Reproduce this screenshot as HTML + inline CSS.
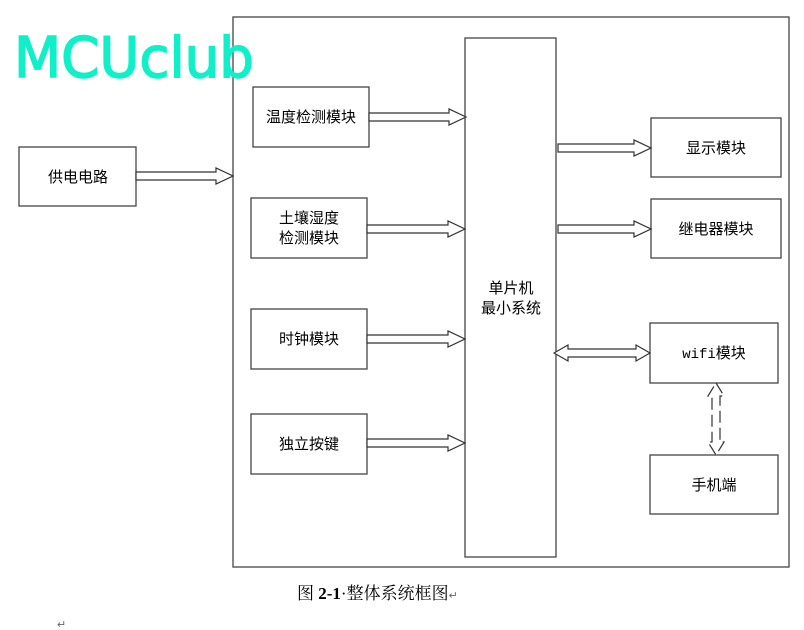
<!DOCTYPE html>
<html><head><meta charset="utf-8"><style>
html,body{margin:0;padding:0;background:#fff;}
svg{display:block}
.t{font-family:"Liberation Sans","Noto Sans CJK SC",sans-serif;font-size:15px;fill:#000;text-anchor:middle}
</style></head><body>
<svg width="804" height="630" viewBox="0 0 804 630" xmlns="http://www.w3.org/2000/svg">
<g fill="#fff" stroke="#444" stroke-width="1.3">
<rect x="233" y="17" width="556" height="550"/>
<rect x="19" y="147" width="117" height="59"/>
<rect x="253" y="87" width="116" height="60"/>
<rect x="251" y="198" width="116" height="60"/>
<rect x="251" y="309" width="116" height="60"/>
<rect x="251" y="414" width="116" height="60"/>
<rect x="465" y="38" width="91" height="519"/>
<rect x="651" y="118" width="130" height="59"/>
<rect x="651" y="199" width="130" height="59"/>
<rect x="650" y="323" width="128" height="60"/>
<rect x="650" y="455" width="128" height="59"/>
</g>
<g fill="#fff" stroke="#333" stroke-width="1.2">
<polygon points="136,172 216,172 216,168 233,176 216,184 216,180 136,180"/>
<polygon points="369,113 449,113 449,109 466,117 449,125 449,121 369,121"/>
<polygon points="367,225 448,225 448,221 465,229 448,237 448,233 367,233"/>
<polygon points="367,335 448,335 448,331 465,339 448,347 448,343 367,343"/>
<polygon points="367,439 448,439 448,435 465,443 448,451 448,447 367,447"/>
<polygon points="558,144 634,144 634,140 651,148 634,156 634,152 558,152"/>
<polygon points="558,225 634,225 634,221 651,229 634,237 634,233 558,233"/>
<polygon points="554,353 568,345 568,349 636,349 636,345 650,353 636,361 636,357 568,357 568,361"/>
<polygon points="716,383 724,396 720,396 720,442 724,442 716,455 708,442 712,442 712,396 708,396" stroke-dasharray="12 5"/>
</g>
<text x="14" y="77" textLength="240" lengthAdjust="spacingAndGlyphs" style="font-family:'Comic Sans MS','DejaVu Sans',sans-serif;font-size:56px;fill:#10f0c8;stroke:#10f0c8;stroke-width:1.5">MCUclub</text>
<text class="t" x="78" y="182">供电电路</text>
<text class="t" x="311" y="122">温度检测模块</text>
<text class="t" x="309" y="223">土壤湿度</text>
<text class="t" x="309" y="243">检测模块</text>
<text class="t" x="309" y="344">时钟模块</text>
<text class="t" x="309" y="449">独立按键</text>
<text class="t" x="511" y="293">单片机</text>
<text class="t" x="511" y="313">最小系统</text>
<text class="t" x="716" y="153">显示模块</text>
<text class="t" x="716" y="234">继电器模块</text>
<text class="t" x="714" y="358"><tspan style="font-family:'Liberation Mono',monospace;font-size:14px">wifi</tspan>模块</text>
<text class="t" x="714" y="490">手机端</text>
<text x="297" y="599" style="font-family:'Liberation Serif','Noto Serif CJK SC',serif;font-size:17px;fill:#000">图 <tspan font-weight="bold">2-1</tspan>·整体系统框图<tspan font-size="11" fill="#666">↵</tspan></text>
<text x="57" y="628" style="font-family:'Liberation Sans',sans-serif;font-size:11px;fill:#666">↵</text>
</svg>
</body></html>
